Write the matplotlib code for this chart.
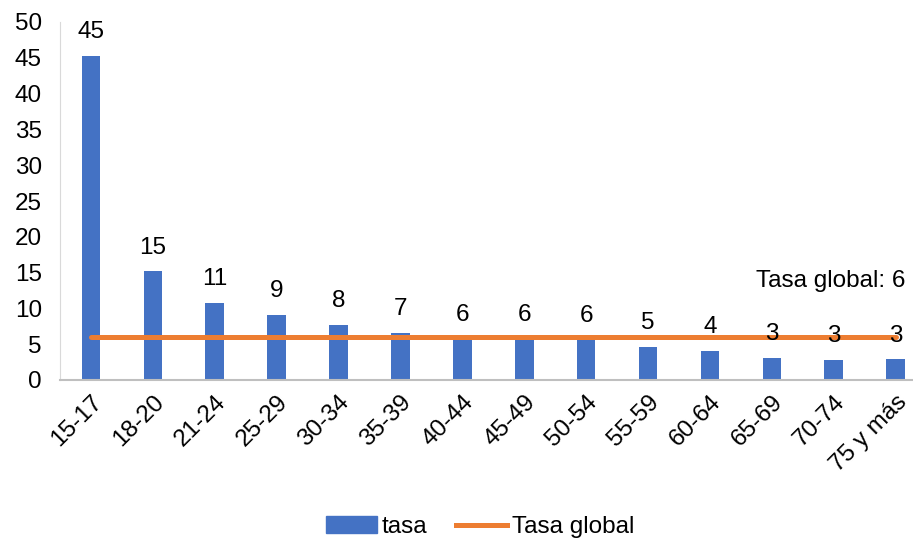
import matplotlib.pyplot as plt
from matplotlib.lines import Line2D
from matplotlib.patches import Patch

plt.rcParams['font.family'] = ['Liberation Sans', 'DejaVu Sans']

# --- data ---
grupos = ['15-17', '18-20', '21-24', '25-29', '30-34', '35-39', '40-44',
          '45-49', '50-54', '55-59', '60-64', '65-69', '70-74', '75 y más']
tasa = [45.3, 15.2, 10.8, 9.1, 7.7, 6.6, 5.8, 5.8, 5.7, 4.6, 4.1, 3.1, 2.8, 2.9]
tasa_global = 6.0

azul = '#4472C4'
naranja = '#ED7D31'
fs = 17.5

fig = plt.figure(figsize=(9.13, 5.41), dpi=100)
ax = fig.add_axes([60 / 913, 1 - 380 / 541, 853 / 913, 358 / 541])

x = list(range(len(grupos)))
ax.bar(x, tasa, width=0.3, color=azul, zorder=2)
ax.plot(x, [tasa_global] * len(x), color=naranja, linewidth=3.6,
        solid_capstyle='round', zorder=3)

# etiquetas de datos
for xi, v in zip(x, tasa):
    ax.annotate(f'{round(v):d}', (xi, v), xytext=(0, 17), textcoords='offset points',
                ha='center', va='center', fontsize=fs, color='black', zorder=4)

ax.annotate(f'Tasa global: {round(tasa_global):d}', (x[-1], tasa_global),
            xytext=(7, 40), textcoords='offset points',
            ha='right', va='center', fontsize=fs, color='black')

# --- formato ---
ax.set_xlim(-0.5, 13.28)
ax.set_ylim(0, 50)
ax.set_yticks(range(0, 51, 5))
ax.set_xticks(x)
ax.set_xticklabels(grupos, rotation=45, ha='right', rotation_mode='anchor')
ax.tick_params(axis='both', length=0, labelsize=fs)
ax.tick_params(axis='y', pad=13)
ax.tick_params(axis='x', pad=8)

for s in ['top', 'right']:
    ax.spines[s].set_visible(False)
ax.spines['left'].set_color('#D9D9D9')
ax.spines['bottom'].set_color('#BFBFBF')
ax.spines['bottom'].set_linewidth(1.5)

handles = [Patch(color=azul, label='tasa'),
           Line2D([0], [0], color=naranja, linewidth=3.6, label='Tasa global')]
fig.legend(handles=handles, loc='center', bbox_to_anchor=(480 / 913, 1 - 527 / 541),
           ncol=2, frameon=False, fontsize=fs, handlelength=2.1,
           handletextpad=0.2, columnspacing=1.2)

fig.savefig('out.png', dpi=100)
